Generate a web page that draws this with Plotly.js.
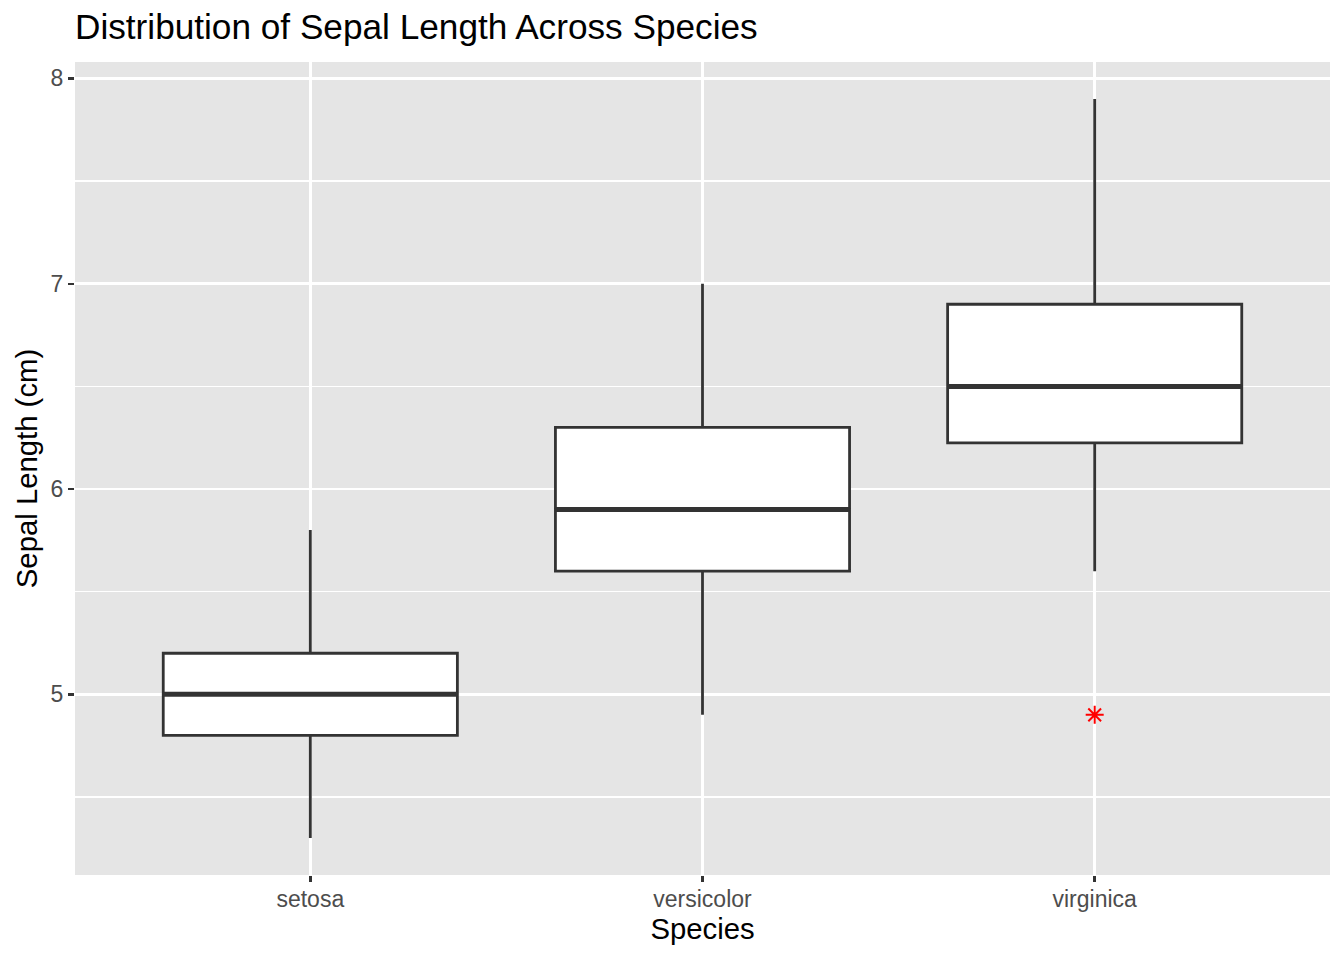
<!DOCTYPE html>
<html>
<head>
<meta charset="utf-8">
<script src="https://cdn.plot.ly/plotly-3.0.1.min.js"></script>
<style>html,body{margin:0;padding:0;background:#fff;}#chart{width:1344px;height:960px;}</style>
</head>
<body>
<div id="chart"></div>
<script>
// Data
const species = ["setosa", "versicolor", "virginica"];
const lowerWhisker = [4.3, 4.9, 5.6];
const q1 = [4.8, 5.6, 6.225];
const median = [5.0, 5.9, 6.5];
const q3 = [5.2, 6.3, 6.9];
const upperWhisker = [5.8, 7.0, 7.9];
const outlierSpecies = ["virginica"];
const outlierValues = [4.9];

const pos = species.map((s, i) => i);
const halfW = 0.375;
const medX = [], medY = [];
species.forEach((s, i) => {
  medX.push(i - halfW, i + halfW, null);
  medY.push(median[i], median[i], null);
});
const outX = outlierSpecies.map(s => species.indexOf(s));

const FONT = '"Liberation Sans", Arial, Helvetica, sans-serif';

const traces = [
  {
    type: 'box',
    x: pos,
    q1: q1, median: median, q3: q3,
    lowerfence: lowerWhisker, upperfence: upperWhisker,
    width: 0.75,
    whiskerwidth: 0,
    boxpoints: false,
    fillcolor: '#FFFFFF',
    line: {color: '#333333', width: 2.8},
    hoverinfo: 'skip',
    showlegend: false
  },
  {
    type: 'scatter', mode: 'lines',
    x: medX, y: medY,
    line: {color: '#333333', width: 5},
    hoverinfo: 'skip', showlegend: false
  },
  {
    type: 'scatter', mode: 'markers',
    x: outX, y: outlierValues,
    marker: {symbol: 'asterisk-open', size: 15, color: '#FF0000', line: {color: '#FF0000', width: 2}},
    showlegend: false
  }
];

const layout = {
  width: 1344, height: 960,
  paper_bgcolor: '#FFFFFF',
  plot_bgcolor: '#E5E5E5',
  margin: {l: 75, r: 14, t: 62, b: 85, pad: 0},
  font: {family: FONT, color: '#4D4D4D'},
  title: {
    text: 'Distribution of Sepal Length Across Species',
    font: {family: FONT, size: 35.2, color: '#000000'},
    x: 75/1344, xref: 'container', xanchor: 'left',
    y: 1 - 27/960, yref: 'container', yanchor: 'middle'
  },
  xaxis: {
    range: [-0.6, 2.6],
    tickvals: pos, ticktext: species,
    showgrid: true, gridcolor: '#FFFFFF', gridwidth: 2.6,
    zeroline: false, showline: false,
    ticks: 'outside', ticklen: 6, tickwidth: 2.4, tickcolor: '#333333',
    ticklabelstandoff: -3,
    tickfont: {family: FONT, size: 23, color: '#4D4D4D'},
    title: {text: 'Species', font: {family: FONT, size: 29.3, color: '#000000'}, standoff: 6}
  },
  yaxis: {
    range: [4.12, 8.08],
    tickvals: [5, 6, 7, 8],
    showgrid: true, gridcolor: '#FFFFFF', gridwidth: 2.6,
    zeroline: false, showline: false,
    ticks: 'outside', ticklen: 6, tickwidth: 2.4, tickcolor: '#333333',
    tickfont: {family: FONT, size: 23, color: '#4D4D4D'},
    minor: {tick0: 4.5, dtick: 1, showgrid: true, gridcolor: '#FFFFFF', gridwidth: 1.3, ticks: ''},
    title: {text: 'Sepal Length (cm)', font: {family: FONT, size: 29.3, color: '#000000'}, standoff: 4}
  }
};

Plotly.newPlot('chart', traces, layout, {displayModeBar: false, staticPlot: true});
</script>
</body>
</html>
